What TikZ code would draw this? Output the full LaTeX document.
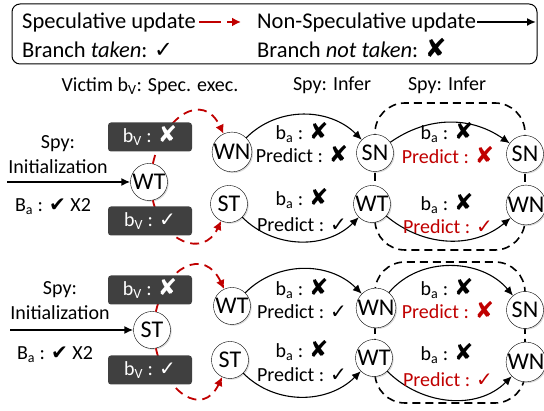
\documentclass[tikz,border=0pt]{standalone}
\usepackage{fontspec}
\setmainfont{Carlito}
\newfontfamily\dvfont{DejaVu Sans}
\usepackage{xcolor}
\usepackage{graphicx}
\usepackage{tikz}
\usetikzlibrary{arrows.meta,shadows}
\definecolor{specred}{RGB}{192,0,0}
\definecolor{boxgray}{RGB}{64,64,64}
\newcommand{\ckmark}{{\dvfont ✓}}
\newcommand{\bckmark}{{\dvfont ✔}}
\newcommand{\crmark}{\smash{\scalebox{1.15}{\dvfont ✘}}}

\begin{document}
\begin{tikzpicture}[x=1pt, y=1pt, font=\fontsize{20}{24}\selectfont]
    \tikzstyle{state} = [circle, draw, fill=white, inner sep=0pt, minimum size=37pt, font=\fontsize{24}{26}\selectfont, drop shadow={shadow xshift=1.2pt, shadow yshift=-1.2pt, opacity=0.3}]
    \tikzstyle{vbox} = [rectangle, rounded corners=3pt, fill=boxgray, text=white, minimum width=84pt, minimum height=29pt, inner sep=0pt]
    \tikzstyle{txt} = [inner sep=1pt]
    \tikzstyle{spec} = [draw=specred, line width=1.8pt, dash pattern=on 9pt off 6pt, -{Latex[length=9pt,width=9pt]}]
    \tikzstyle{nonspec} = [draw=black, line width=1.1pt, -{Latex[length=9pt,width=8pt]}]
    \tikzstyle{infer} = [draw=black, line width=1.6pt, dash pattern=on 8pt off 5pt, rounded corners=30pt]

    \useasboundingbox (0,0) rectangle (544,411);

    % Legend
    \node [draw, rounded corners=8pt, line width=1pt, minimum width=525pt, minimum height=60pt] (legend) at (274.5,377) {};
    \node [txt, anchor=base west, font=\fontsize{22.5}{26}\selectfont] (spectxt) at (21,382) {Speculative update};
    \node [txt, anchor=base west, font=\fontsize{22.5}{26}\selectfont] (nstxt) at (256,382) {Non-Speculative update};
    \node [txt, anchor=base west, font=\fontsize{22.5}{26}\selectfont] (taken) at (21,353) {Branch \textit{taken}: \ckmark};
    \node [txt, anchor=base west, font=\fontsize{22.5}{26}\selectfont] (ntaken) at (256,353) {Branch \textit{not taken}: \crmark};
    \coordinate (specend) at (241,389);
    \coordinate (nsend) at (536,389);
    \draw [spec, dash pattern=on 22pt off 6pt] ([xshift=2pt]spectxt.east |- specend) -- (specend);
    \draw [nonspec, line width=1.6pt] (nstxt.east |- nsend) -- (nsend);

    % Phase headers
    \node [txt] (victim) at (150,325) {Victim b\textsubscript{V}: Spec. exec.};
    \node [txt] (infer1) at (332,326) {Spy: Infer};
    \node [txt] (infer2) at (447,326) {Spy: Infer};

    % Second inference step
    \draw [infer] (375,161) rectangle (525,308);
    \draw [infer] (375,8) rectangle (525,149);

    % Upper case: init WT
    \node [txt, align=center, font=\fontsize{20}{25}\selectfont] (init1) at (58,256) {Spy:\\Initialization};
    \node [txt] (ba1) at (53,204) {B\textsubscript{a} : \bckmark~X2};
    \node [state] (wt1) at (149,229) {WT};
    \node [state] (wn1) at (232,259) {WN};
    \node [state] (st1) at (229,207) {ST};
    \node [state] (sn1) at (375,258) {SN};
    \node [state] (wt2) at (372,207) {WT};
    \node [state] (sn2) at (525,257) {SN};
    \node [state] (wn2) at (526,206) {WN};
    \coordinate (start1) at (7,229);
    \draw [nonspec, line width=1.6pt] (start1) -- (wt1);

    \draw [spec] (wt1) to[out=78, in=115, looseness=1.6] (wn1);
    \draw [spec] (wt1) to[out=-78, in=-115, looseness=1.5] (st1);
    \node [vbox] (vn1) at (150,274) {b\textsubscript{V} : \crmark};
    \node [vbox] (vt1) at (150,190) {b\textsubscript{V} : \ckmark};

    \draw [nonspec] (wn1) to[out=45, in=135] (sn1);
    \draw [nonspec] (st1) to[out=-45, in=-135] (wt2);
    \draw [nonspec] (sn1) to[out=35, in=145] (sn2);
    \draw [nonspec] (wt2) to[out=-40, in=-140] (wn2);

    \node [txt] (ba11) at (302,277) {b\textsubscript{a} : \crmark};
    \node [txt] (pr11) at (302,255) {Predict : \crmark};
    \node [txt] (ba12) at (302,211) {b\textsubscript{a} : \crmark};
    \node [txt] (pr12) at (302,186) {Predict : \ckmark};
    \node [txt] (ba13) at (447,277) {b\textsubscript{a} : \crmark};
    \node [txt, text=specred] (pr13) at (448,254) {Predict : \crmark};
    \node [txt] (ba14) at (447,206) {b\textsubscript{a} : \crmark};
    \node [txt, text=specred] (pr14) at (448,184) {Predict : \ckmark};

    % Lower case: init ST
    \node [txt, align=center, font=\fontsize{20}{25}\selectfont] (init2) at (60,110) {Spy:\\Initialization};
    \node [txt] (ba2) at (55,56) {B\textsubscript{a} : \bckmark~X2};
    \node [state] (st3) at (152,81) {ST};
    \node [state] (wt3) at (232,105) {WT};
    \node [state] (st4) at (230,51) {ST};
    \node [state] (wn3) at (376,103) {WN};
    \node [state] (wt4) at (374,53) {WT};
    \node [state] (sn3) at (525,101) {SN};
    \node [state] (wn4) at (526,49) {WN};
    \coordinate (start2) at (10,81);
    \draw [nonspec, line width=1.6pt] (start2) -- (st3);

    \draw [spec] (st3) to[out=78, in=115, looseness=1.65] (wt3);
    \draw [spec] (st3) to[out=-78, in=-115, looseness=1.6] (st4);
    \node [vbox] (vn2) at (150,121) {b\textsubscript{V} : \crmark};
    \node [vbox] (vt2) at (150,41) {b\textsubscript{V} : \ckmark};

    \draw [nonspec] (wt3) to[out=45, in=135] (wn3);
    \draw [nonspec] (st4) to[out=-45, in=-135] (wt4);
    \draw [nonspec] (wn3) to[out=50, in=130] (sn3);
    \draw [nonspec] (wt4) to[out=-45, in=-135] (wn4);

    \node [txt] (ba21) at (302,121) {b\textsubscript{a} : \crmark};
    \node [txt] (pr21) at (302,99) {Predict : \ckmark};
    \node [txt] (ba22) at (302,59) {b\textsubscript{a} : \crmark};
    \node [txt] (pr22) at (302,36) {Predict : \ckmark};
    \node [txt] (ba23) at (447,121) {b\textsubscript{a} : \crmark};
    \node [txt, text=specred] (pr23) at (448,99) {Predict : \crmark};
    \node [txt] (ba24) at (447,56) {b\textsubscript{a} : \crmark};
    \node [txt, text=specred] (pr24) at (448,31) {Predict : \ckmark};
\end{tikzpicture}
\end{document}
